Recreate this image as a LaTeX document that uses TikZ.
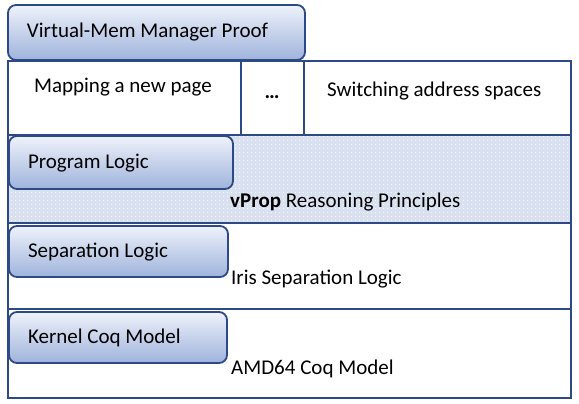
\documentclass[tikz,border=0pt]{standalone}
\usepackage{fontspec}
\setmainfont{Carlito}
\usetikzlibrary{positioning,patterns.meta}
\definecolor{frameblue}{HTML}{2E4A86}
\definecolor{tabtop}{HTML}{EEF2FA}
\definecolor{tabbottom}{HTML}{9FB3DC}
\definecolor{dotfill}{HTML}{D9E1F0}

\begin{document}
\begin{tikzpicture}[x=1pt,y=-1pt,font=\fontsize{21}{25}\selectfont,
  layerbox/.style={draw=frameblue,line width=2pt,anchor=north west,inner sep=0pt,outer sep=0pt},
  tabbox/.style={draw=frameblue,line width=1.8pt,rounded corners=8pt,top color=tabtop,bottom color=tabbottom,
    anchor=north west,outer sep=0pt,minimum height=#1,text height=11pt,text depth=0pt,align=flush left,inner xsep=19pt},
  note/.style={inner sep=0pt}]
\useasboundingbox (0,0) rectangle (579,404);
% row of proofs
\node[layerbox,minimum width=233pt,minimum height=74pt] (mapcell) at (8,61) {};
\node[layerbox,minimum width=63pt,minimum height=74pt] (dotcell) at (mapcell.north east) {};
\node[layerbox,minimum width=267pt,minimum height=74pt] (switchcell) at (dotcell.north east) {};
% layers below
\node[layerbox,minimum width=563pt,minimum height=88pt,preaction={fill=dotfill},
  pattern={Dots[distance=4pt,radius=0.6pt]},pattern color=white] (pllayer) at (mapcell.south west) {};
\node[layerbox,minimum width=563pt,minimum height=86pt] (sllayer) at (pllayer.south west) {};
\node[layerbox,minimum width=563pt,minimum height=89pt] (hwlayer) at (sllayer.south west) {};
% tabs
\node[tabbox=55pt,text width=259pt] (prooftab) at (8,5) {Virtual-Mem Manager Proof};
\node[tabbox=53pt,text width=186pt] (pltab) at (9,136) {Program Logic};
\node[tabbox=51pt,text width=181pt] (sltab) at (9,226) {Separation Logic};
\node[tabbox=51pt,text width=180pt] (hwtab) at (9,312) {Kernel Coq Model};
% texts
\node[note,anchor=base] (maptext) at (123,93) {Mapping a new page};
\node[note,anchor=base] (dottext) at (272,99) {\textbf{\dots}};
\node[note,anchor=base west] (switchtext) at (327,97) {Switching address spaces};
\node[note,anchor=base west] (vproptext) at (230,207) {\textbf{vProp} Reasoning Principles};
\node[note,anchor=base west] (iristext) at (231,284) {Iris Separation Logic};
\node[note,anchor=base west] (amdtext) at (231,374) {AMD64 Coq Model};
\end{tikzpicture}
\end{document}
